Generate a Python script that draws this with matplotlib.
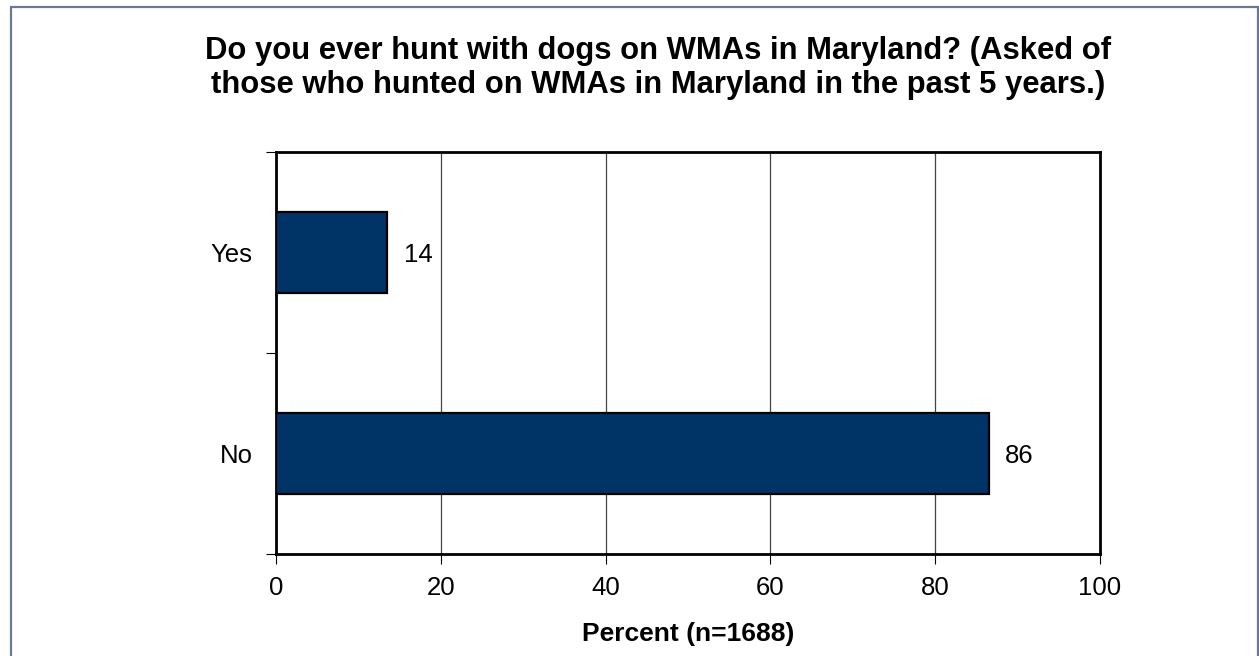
import matplotlib.pyplot as plt
from matplotlib.patches import Rectangle

categories = ["No", "Yes"]
percents = [86.5, 13.5]
value_labels = ["86", "14"]
x_ticks = [0, 20, 40, 60, 80, 100]

plt.rcParams['font.family'] = ['Liberation Sans', 'DejaVu Sans']

fig = plt.figure(figsize=(12.59, 6.56), dpi=100)
# grey frame round the chart (bottom edge runs off the picture)
fig.patches.append(Rectangle((11/1259, -0.05), 1247/1259, 1.05 - 7/656,
                             transform=fig.transFigure, fill=False,
                             edgecolor='#6b7a90', linewidth=1.6))

ax = fig.add_axes([276/1259, 1 - 554/656, 824/1259, 402/656])
ypos = list(range(len(categories)))
ax.barh(ypos, percents, height=0.4, color='#003366', edgecolor='black', linewidth=1.6, zorder=3)
for y, v, lab in zip(ypos, percents, value_labels):
    ax.text(v + 2.0, y - 0.01, lab, va='center', ha='left', fontsize=18.5)

ax.set_xlim(0, 100)
ax.set_ylim(-0.5, 1.5)
ax.set_xticks(x_ticks)
ax.set_xticklabels([str(t) for t in x_ticks])
ax.set_yticks([-0.5, 0.5, 1.5], minor=False)
ax.set_yticklabels([])
ax.set_yticks(ypos, minor=True)
ax.set_yticklabels(categories, minor=True)
ax.tick_params(axis='y', which='minor', length=0, pad=17, labelsize=18.5)
ax.tick_params(axis='y', which='major', length=7, width=0.8, direction='out')
ax.tick_params(axis='x', length=7, width=0.8, direction='out', pad=9, labelsize=18.5)
ax.xaxis.grid(True, color='#444444', linewidth=0.9, zorder=0)
ax.set_axisbelow(True)
for s in ax.spines.values():
    s.set_linewidth(2.0)
    s.set_color('black')

ax.set_xlabel('Percent (n=1688)', fontsize=19, fontweight='bold', labelpad=16)

fig.text(658/1259, 1 - 68/656, "Do you ever hunt with dogs on WMAs in Maryland? (Asked of\n"
         "those who hunted on WMAs in Maryland in the past 5 years.)",
         ha='center', va='center', fontsize=22.3, fontweight='bold', linespacing=1.2)

fig.savefig('out.png', dpi=100)
